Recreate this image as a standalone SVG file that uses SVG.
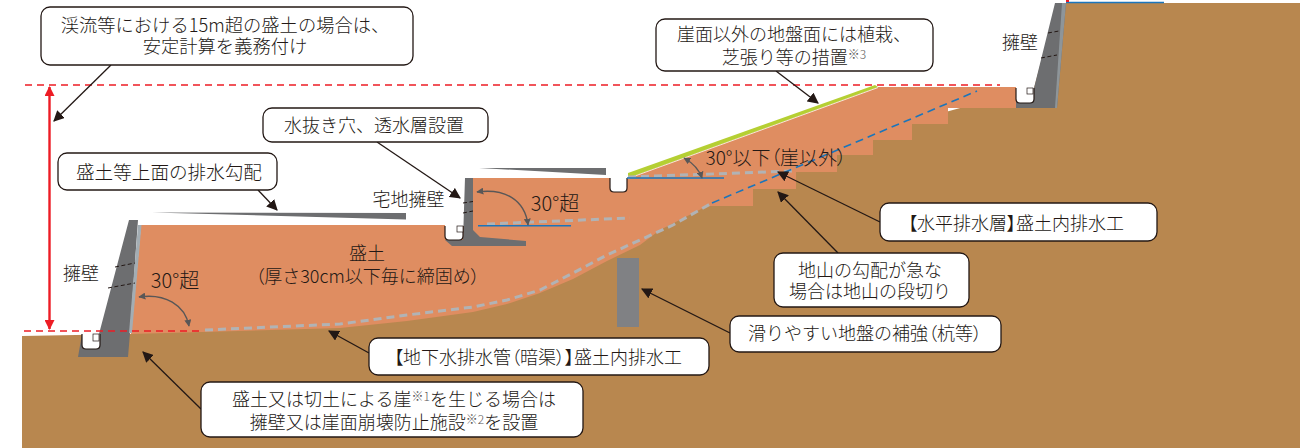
<svg xmlns="http://www.w3.org/2000/svg" width="1316" height="448" viewBox="0 0 1316 448">
<defs>
<marker id="ah" viewBox="0 0 10 10" refX="9" refY="5" markerWidth="11" markerHeight="11" markerUnits="userSpaceOnUse" orient="auto"><path d="M0 0L10 5L0 10z" fill="#231815"/></marker>
<marker id="gh" viewBox="0 0 10 10" refX="9" refY="5" markerWidth="7" markerHeight="7" markerUnits="userSpaceOnUse" orient="auto-start-reverse"><path d="M0 0L10 5L0 10z" fill="#595757"/></marker>
<marker id="rh" viewBox="0 0 10 10" refX="9" refY="5" markerWidth="10" markerHeight="10" markerUnits="userSpaceOnUse" orient="auto-start-reverse"><path d="M0 0L10 5L0 10z" fill="#ed1c24"/></marker>
</defs>
<style>
text{font-family:"Noto Sans CJK JP","Liberation Sans",sans-serif;font-size:18px;font-weight:300;fill:#231815;text-anchor:middle}
.box{fill:#fff;stroke:#231815;stroke-width:1.3}
.c{fill:none;stroke:#231815;stroke-width:1.3;marker-end:url(#ah)}
.a{fill:none;stroke:#595757;stroke-width:1.4;marker-start:url(#gh);marker-end:url(#gh)}
.wall{fill:#6d6e70}
.drain{fill:#fff;stroke:#231815;stroke-width:1.2}
.sq{fill:#fff;stroke:#231815;stroke-width:.7}
.gray{fill:none;stroke:#b1b3b5;stroke-width:3;stroke-dasharray:8 5}
.blue{fill:none;stroke:#1b75bb;stroke-width:1.6}
.w{fill:none;stroke:#231815;stroke-width:1;stroke-dasharray:4 2.5}
.s{font-size:12px;fill:#595757}
.p{font-feature-settings:"palt"}
.b{font-size:20px}
</style>
<g id="ground">
<path fill="#b8874f" d="M22 336L130 334L1034 88L1057 3H1300V448H22z"/>
<path fill="#df8d61" d="M131 334L141 225H445V226H465L473 178H610H628L878 87H1016V108H948V124H912V140H873V155H837V172H796V189H753V206H707L660 230L640 245L607 261L573 279L540 293L507 304L473 312L407 321L340 328z"/>
</g>
<g id="walls">
<path id="wall-left" class="wall" d="M129 220H138L130 333L128 357H78L82 334H99z"/>
<path fill="#a3adb3" d="M138 225H141.500L132 333H129z"/>
<path id="wall-mid" class="wall" d="M465 178H473V230L480 237L526 241V246H452L445 240H463z"/>
<path id="wall-right" class="wall" d="M1055 3H1066L1057 108H1016V88H1034z"/>
<path fill="#8e9599" d="M1062 3H1066L1057 108H1055z"/>
<path class="drain" d="M82 334V345Q82 349 86 349H96Q100 349 100 345V334"/>
<rect class="sq" x="93" y="334" width="6" height="7"/>
<path class="drain" d="M445 226V236Q445 240 449 240H459Q463 240 463 236V226"/>
<rect class="sq" x="457" y="226" width="6" height="6"/>
<path class="drain" d="M610 178V188Q610 192 614 192H623Q627 192 627 188V178"/>
<path class="drain" d="M1016 88V99Q1016 103 1020 103H1030Q1034 103 1034 99V88"/>
<rect class="sq" x="1027" y="88" width="6" height="6"/>
<path class="w" d="M115 267L135 263M108 288L135 283M463 203L473 201.500M463 213L473 211M1048 33L1059 31M1041 58L1057 55"/>
<rect id="pile" x="617" y="258" width="22" height="69" fill="#808184"/>
</g>
<g id="surface">
<path fill="none" stroke="#fff" stroke-width=".8" d="M628 178.500L878 87.500"/>
<path fill="#b5cf33" d="M628 173L875 85L878 87L628 178z"/>
<path fill="#6d6e70" d="M152 212.500L406 213V219.500zM479 168L606 168V175z"/>
</g>
<g id="connectors">
<path class="gray" d="M205 330L340 324L407 315L473 307L507 300L540 290L573 273L607 255L640 240L673 225L712 203"/>
<path class="gray" d="M487 224L630 218M628 177L793 171"/>
<path class="blue" d="M478 225.700H571M627 178H724M1066 2.500H1164"/>
<path class="blue" stroke-dasharray="8 5" d="M712 203L977 91"/>
<path fill="none" stroke="#ed1c24" stroke-width="1.500" stroke-dasharray="7 5" d="M25 85H1000M24 331H200"/>
<path fill="none" stroke="#ed1c24" stroke-width="2" d="M1066 1H1069"/>
<path fill="none" stroke="#ed1c24" stroke-width="2.400" marker-start="url(#rh)" marker-end="url(#rh)" d="M49.500 87V329"/>
<path class="a" d="M139 297C165 293 185 305 189 326"/>
<path class="a" d="M477 192C505 188 525 200 528 225"/>
<path class="a" d="M684 158Q698 166 702 178"/>
<path class="c" d="M111 65L54 121"/>
<path class="c" d="M258 190L277 210"/>
<path class="c" d="M377 142L460 198"/>
<path class="c" d="M776 71L818 103"/>
<path class="c" d="M880 222L778 172"/>
<path class="c" d="M838 253L778 192"/>
<path class="c" d="M730 333L642 289"/>
<path class="c" d="M369 353L329 331"/>
<path class="c" d="M201 409L143 352"/>
</g>
<g id="n1"><rect class="box" x="41" y="7" width="372" height="58" rx="9"/><text x="225" y="32" style="font-size:18.300px">渓流等における15m超の盛土の場合は、</text><text x="225" y="53" style="font-size:18.300px">安定計算を義務付け</text></g>
<g id="n2"><rect class="box" x="656" y="19" width="277" height="52" rx="9"/><text x="794" y="41">崖面以外の地盤面には植栽、</text><text x="794" y="64">芝張り等の措置<tspan class="s" dy="-5">※3</tspan></text></g>
<g id="n3"><rect class="box" x="263" y="108" width="225" height="34" rx="9"/><text x="374" y="132">水抜き穴、透水層設置</text></g>
<g id="n4"><rect class="box" x="58" y="153" width="219" height="37" rx="9"/><text x="169" y="179" style="font-size:18.600px">盛土等上面の排水勾配</text></g>
<g id="n5"><rect class="box" x="880" y="203" width="277" height="38" rx="9"/><text x="1016" y="230"><tspan class="p">【</tspan>水平排水層<tspan class="p">】</tspan>盛土内排水工</text></g>
<g id="n6"><rect class="box" x="774" y="253" width="195" height="54" rx="9"/><text x="870" y="277">地山の勾配が急な</text><text x="870" y="298">場合は地山の段切り</text></g>
<g id="n7"><rect class="box" x="730" y="316" width="271" height="36" rx="9"/><text x="865" y="340">滑りやすい地盤の補強<tspan class="p">（</tspan>杭等<tspan class="p">）</tspan></text></g>
<g id="n8"><rect class="box" x="369" y="338" width="340" height="37" rx="9"/><text x="538" y="364"><tspan class="p">【</tspan>地下水排水管<tspan class="p">（</tspan>暗渠<tspan class="p">）】</tspan>盛土内排水工</text></g>
<g id="n9"><rect class="box" x="201" y="382" width="382" height="55" rx="9"/><text x="394" y="406">盛土又は切土による崖<tspan class="s" dy="-5">※1</tspan><tspan dy="5">を生じる場合は</tspan></text><text x="394" y="429">擁壁又は崖面崩壊防止施設<tspan class="s" dy="-5">※2</tspan><tspan dy="5">を設置</tspan></text></g>
<g id="labels">
<text x="81" y="280">擁壁</text>
<text x="408.500" y="206">宅地擁壁</text>
<text x="1020" y="49">擁壁</text>
<text class="b" x="175" y="288">30°超</text>
<text class="b" x="555" y="211">30°超</text>
<text x="776" y="165" style="font-size:19px">30°以下<tspan class="p">（</tspan>崖以外<tspan class="p">）</tspan></text>
<text x="367" y="260">盛土</text>
<text x="367.500" y="283"><tspan class="p">（</tspan>厚さ30cm以下毎に締固め<tspan class="p">）</tspan></text>
</g>
</svg>
